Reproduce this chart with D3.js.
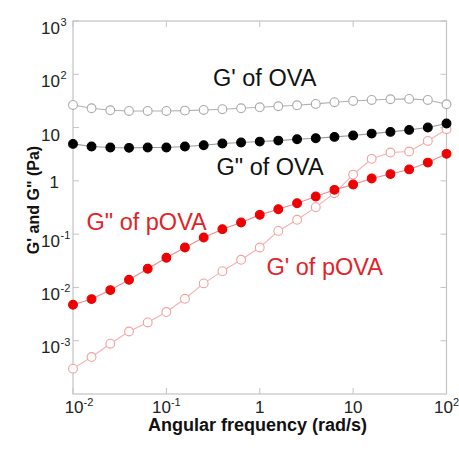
<!DOCTYPE html>
<html><head><meta charset="utf-8">
<script src="https://cdn.jsdelivr.net/npm/d3@7"></script>
<style>html,body{margin:0;padding:0;background:#fff;} svg{display:block;font-family:"Liberation Sans",Arial,sans-serif;}</style>
</head><body>
<script>
const frequency = [0.01,0.0158,0.0251,0.0398,0.0631,0.1,0.158,0.251,0.398,0.631,1,1.58,2.51,3.98,6.31,10,15.8,25.1,39.8,63.1,100];
const gPrimeOVA = [26.6,23.0,21.1,20.5,20.5,20.5,20.8,21.4,22.1,23.0,24.0,25.1,26.2,27.8,29.9,31.6,33.0,34.0,34.5,33.0,27.4];
const gDoublePrimeOVA = [4.94,4.41,4.22,4.16,4.22,4.22,4.41,4.67,5.01,5.24,5.46,5.70,6.04,6.31,6.68,7.08,7.71,8.30,9.04,10.0,11.9];
const gDoublePrimePOVA = [0.00473,0.00604,0.00891,0.0139,0.0224,0.0360,0.0562,0.0865,0.124,0.165,0.230,0.294,0.381,0.508,0.678,0.853,1.11,1.34,1.64,2.20,3.21];
const gPrimePOVA = [0.000299,0.000494,0.000879,0.00149,0.00220,0.00345,0.00612,0.0119,0.0202,0.0330,0.0562,0.115,0.186,0.321,0.587,1.31,2.59,3.40,3.55,5.62,9.31];

const xTicks = [0.01,0.1,1,10,100];
const xTickLabels = [["10","-2"],["10","-1"],["1",""],["10",""],["10","2"]];
const yTicks = [1e-3,1e-2,1e-1,1,10,100,1000];
const yTickLabels = [["10","-3"],["10","-2"],["10","-1"],["1",""],["10",""],["10","2"],["10","3"]];
const seriesLabels = ["G' of OVA","G\" of OVA","G\" of pOVA","G' of pOVA"];
const xTitle = "Angular frequency (rad/s)";
const yTitle = "G' and G\" (Pa)";

const W = 459, H = 451;
const L = 73, R = 446.5, T = 21, B = 394;
const svg = d3.select("body").append("svg").attr("width", W).attr("height", H);

const x = d3.scaleLog().domain([1e-2, 1e2]).range([L, R]);
const y = d3.scaleLog().domain([1e-4, 1e3]).range([B, T]);

const axisColor = "#c4c4c4";
svg.append("rect").attr("x", L).attr("y", T).attr("width", R - L).attr("height", B - T)
  .attr("fill", "none").attr("stroke", axisColor).attr("stroke-width", 1.2);

const tl = 6;
xTicks.forEach(v => {
  svg.append("line").attr("x1", x(v)).attr("x2", x(v)).attr("y1", B).attr("y2", B - tl).attr("stroke", axisColor);
  svg.append("line").attr("x1", x(v)).attr("x2", x(v)).attr("y1", T).attr("y2", T + tl).attr("stroke", axisColor);
});
yTicks.forEach(v => {
  svg.append("line").attr("x1", L).attr("x2", L + tl).attr("y1", y(v)).attr("y2", y(v)).attr("stroke", axisColor);
  svg.append("line").attr("x1", R).attr("x2", R - tl).attr("y1", y(v)).attr("y2", y(v)).attr("stroke", axisColor);
});

xTickLabels.forEach((lab, i) => {
  const cx = x(xTicks[i]) + (i === 0 ? 6 : 0);
  const t = svg.append("text").attr("x", cx).attr("y", 412.5).attr("text-anchor", "middle")
    .attr("font-size", 17).attr("fill", "#222");
  t.append("tspan").text(lab[0]);
  if (lab[1]) t.append("tspan").attr("dy", -7).attr("font-size", 11).text(lab[1]);
});

yTickLabels.forEach((lab, i) => {
  const ty = y(yTicks[i]);
  if (lab[1]) {
    svg.append("text").attr("x", 60).attr("y", ty + 12.5).attr("text-anchor", "end")
      .attr("font-size", 17).attr("fill", "#222").text(lab[0]);
    svg.append("text").attr("x", 60.5).attr("y", ty + 5).attr("text-anchor", "start")
      .attr("font-size", 11).attr("fill", "#222").text(lab[1]);
  } else {
    const off = lab[0] === "1" ? 7 : 13.5;
    svg.append("text").attr("x", lab[0] === "1" ? 59 : 60).attr("y", ty + off).attr("text-anchor", "end")
      .attr("font-size", 17).attr("fill", "#222").text(lab[0]);
  }
});

svg.append("text").attr("x", 257.5).attr("y", 431).attr("text-anchor", "middle")
  .attr("font-size", 18).attr("font-weight", "bold").attr("fill", "#111").text(xTitle);
svg.append("text").attr("transform", "translate(39,200) rotate(-90)").attr("text-anchor", "middle")
  .attr("font-size", 16).attr("font-weight", "bold").attr("fill", "#111").text(yTitle);

const line = d3.line().x(d => x(d[0])).y(d => y(d[1]));
function drawSeries(vals, lineColor, stroke, fill) {
  const pts = frequency.map((f, i) => [f, vals[i]]);
  svg.append("path").datum(pts).attr("d", line).attr("fill", "none")
    .attr("stroke", lineColor).attr("stroke-width", 1.1);
  svg.append("g").selectAll("circle").data(pts).join("circle")
    .attr("cx", d => x(d[0])).attr("cy", d => y(d[1])).attr("r", 4.4)
    .attr("fill", fill).attr("stroke", stroke).attr("stroke-width", 1.1);
}
drawSeries(gPrimePOVA, "#f7b0b0", "#f4a0a0", "#fff");
drawSeries(gDoublePrimePOVA, "#f08a8a", "#ee0000", "#ee0000");
drawSeries(gDoublePrimeOVA, "#999", "#000", "#000");
drawSeries(gPrimeOVA, "#b0b0b0", "#aaa", "#fff");

const labelPos = [[213, 86, "#111"], [216.5, 175, "#111"], [86.5, 229.5, "#e0242a"], [266.5, 275, "#e0242a"]];
seriesLabels.forEach((s, i) => {
  svg.append("text").attr("x", labelPos[i][0]).attr("y", labelPos[i][1])
    .attr("font-size", 23.5).attr("fill", labelPos[i][2]).text(s);
});
</script>
</body></html>
